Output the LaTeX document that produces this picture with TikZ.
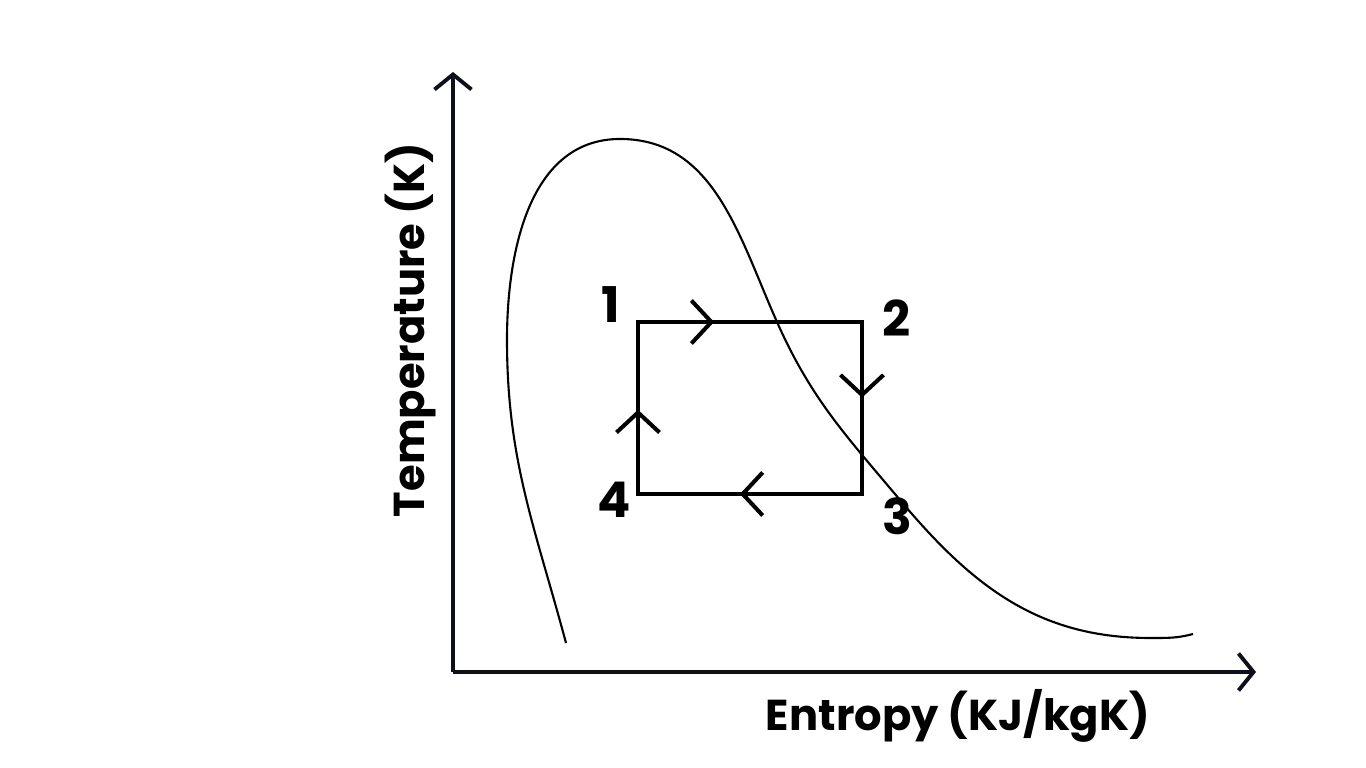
\documentclass[tikz,border=0pt]{standalone}
\usepackage{fontspec}
\setsansfont{Poppins}
\usepackage{tikz}
\usetikzlibrary{arrows.meta, positioning, calc, decorations.markings}
\definecolor{axisblack}{HTML}{0D0F1A}

\tikzset{
	axis line/.style={line width=2.2pt, axisblack, -{Straight Barb[length=0.3cm, width=0.74cm, line width=2.2pt]}},
	cycle line/.style={line width=2.3pt, line cap=rect},
	mid arrow/.style={postaction={decorate, decoration={markings,
		mark=at position #1 with {\arrow{Straight Barb[length=0.4cm, width=0.86cm, line width=2.3pt]}}}}},
	state label/.style={font=\sffamily\bfseries\fontsize{28}{32}\selectfont},
	axis label/.style={font=\sffamily\bfseries\fontsize{24.6}{30}\selectfont}
}

\begin{document}
\begin{tikzpicture}
	\useasboundingbox (0,0) rectangle (27.32,15.36);

	% axes
	\coordinate (O) at (9.06,1.92);
	\coordinate (ytop) at (9.06,13.92);
	\coordinate (xend) at (25.12,1.92);
	\draw[axis line] (O) -- (ytop);
	\draw[axis line] (O) -- (xend);
	\node[axis label] (xlab) at (19.16,1.05) {Entropy (KJ/kgK)};
	\node[axis label, rotate=90] (ylab) at (8.22,8.76) {Temperature (K)};

	% saturation dome
	\draw[line width=1.2pt] (11.32,2.50) to[out=105,in=-90] (10.14,8.56)
		to[out=90,in=180] (12.40,12.58) to[out=0,in=114] (15.54,8.92)
		to[out=-66,in=130] (18.00,5.36) to[out=-50,in=180] (23.00,2.60)
		to[out=0,in=195] (23.86,2.68);

	% cycle
	\coordinate (c1) at (12.76,8.92);
	\coordinate (c2) at (17.24,8.92);
	\coordinate (c3) at (17.24,5.48);
	\coordinate (c4) at (12.76,5.48);
	\foreach \a/\b/\p in {c1/c2/0.34, c2/c3/0.44, c3/c4/0.545, c4/c1/0.49}{
		\draw[cycle line, mid arrow=\p] (\a) -- (\b);
	}
	\node[state label] (s1) at (12.22,9.26) {1};
	\node[state label] (s2) at (17.94,9.00) {2};
	\node[state label] (s3) at (17.94,5.04) {3};
	\node[state label] (s4) at (12.28,5.36) {4};
\end{tikzpicture}
\end{document}
